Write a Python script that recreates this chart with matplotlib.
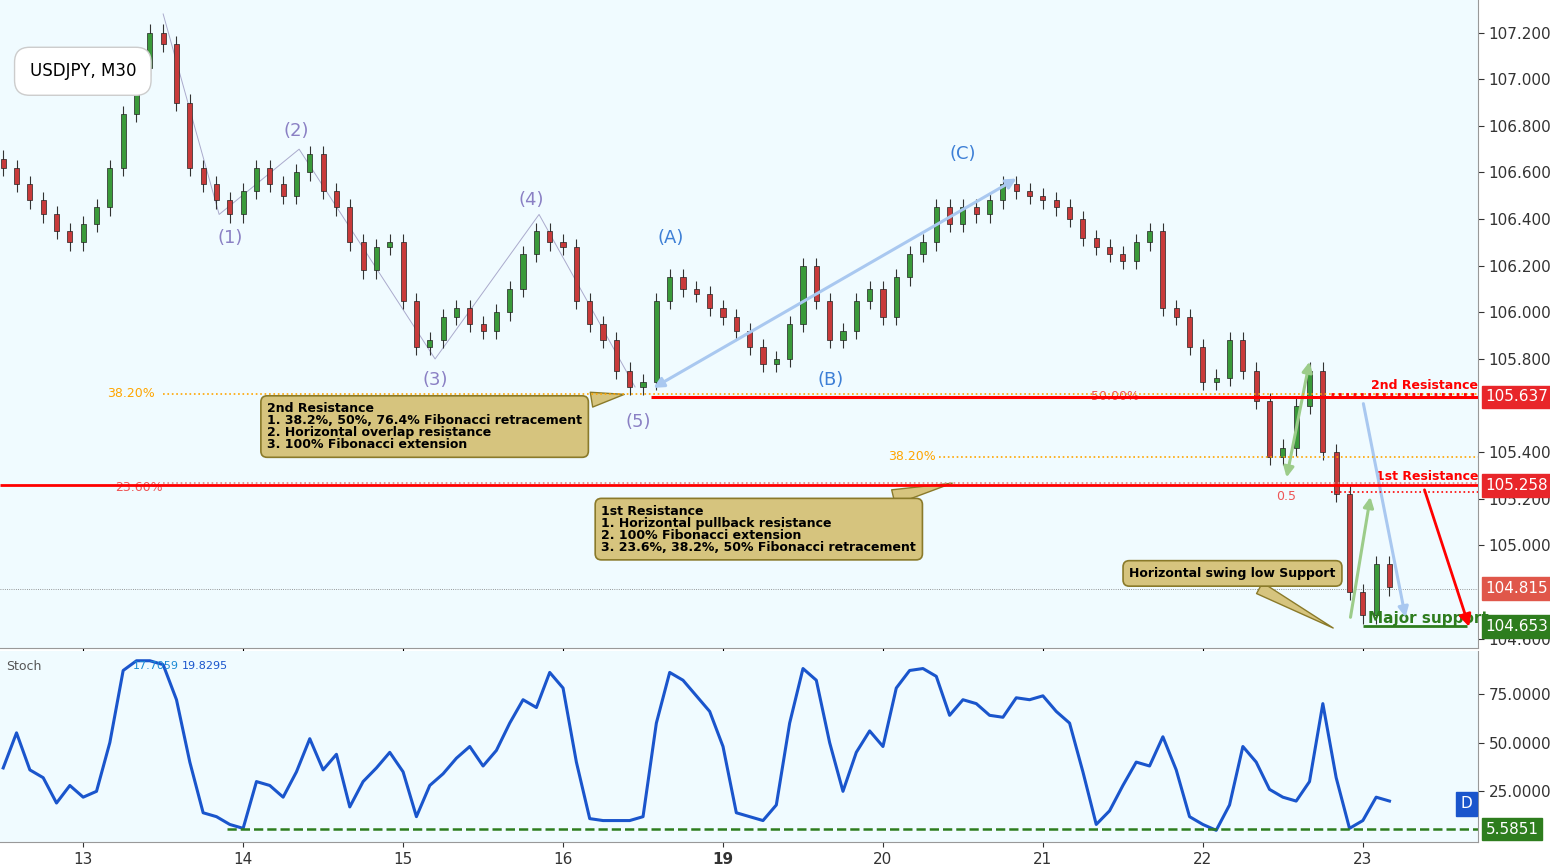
import matplotlib
matplotlib.use("Agg")
import matplotlib.pyplot as plt
import numpy as np

day_labels = ["13", "14", "15", "16", "19", "20", "21", "22", "23"]
closes = [106.62,106.55,106.48,106.42,106.35,106.30,106.38,106.45,106.62,106.85,107.05,107.20,
          107.15,106.90,106.62,106.55,106.48,106.42,106.52,106.62,106.55,106.50,106.60,106.68,
          106.52,106.45,106.30,106.18,106.28,106.30,106.05,105.85,105.88,105.98,106.02,105.95,
          105.92,106.00,106.10,106.25,106.35,106.30,106.28,106.05,105.95,105.88,105.75,105.68,
          105.70,106.05,106.15,106.10,106.08,106.02,105.98,105.92,105.85,105.78,105.80,105.95,
          106.20,106.05,105.88,105.92,106.05,106.10,105.98,106.15,106.25,106.30,106.45,106.38,
          106.45,106.42,106.48,106.55,106.52,106.50,106.48,106.45,106.40,106.32,106.28,106.25,
          106.22,106.30,106.35,106.02,105.98,105.85,105.70,105.72,105.88,105.75,105.62,105.38,
          105.42,105.60,105.75,105.40,105.22,104.80,104.70,104.92,104.82]
stoch = [37,55,36,32,19,28,22,25,50,87,92,92,
         90,72,40,14,12,8,6,30,28,22,35,52,
         36,44,17,30,37,45,35,12,28,34,42,48,
         38,46,60,72,68,86,78,40,11,10,10,10,
         12,60,86,82,74,66,48,14,12,10,18,60,
         88,82,50,25,45,56,48,78,87,88,84,64,
         72,70,64,63,73,72,74,66,60,35,8,15,
         28,40,38,53,36,12,8,5,18,48,40,26,
         22,20,30,70,32,6,10,22,20]
levels = {"res2": 105.637, "res1": 105.258, "last": 104.815, "support": 104.653}
stoch_low = 5.5851

n = len(closes)
t = -0.5 + np.arange(n) / 12.0
opens = [106.66] + closes[:-1]

bg = "#f0fbff"
fig = plt.figure(figsize=(15.5, 8.67), dpi=100)
fig.patch.set_facecolor("white")
ax = fig.add_axes([0, 1 - 648/867, 1478/1550, 648/867])
ax2 = fig.add_axes([0, 25/867, 1478/1550, 191/867], sharex=ax)
for a in (ax, ax2):
    a.set_facecolor(bg)
    a.yaxis.tick_right()
    a.tick_params(axis="y", labelsize=11, colors="#333", length=4)
    for s in ["top", "left"]:
        a.spines[s].set_visible(False)
    a.spines["right"].set_color("#999")
    a.spines["bottom"].set_color("#999")

x0, x1 = -0.52, 8.72
ax.set_xlim(x0, x1)
ax.set_ylim(104.56, 107.34)
tks = [v for v in np.arange(104.6, 107.21, 0.2) if round(v, 1) not in (104.8, 105.6)]
ax.set_yticks(tks)
ax.set_yticklabels([f"{v:.3f}" for v in tks])
plt.setp(ax.get_xticklabels(), visible=False)

w = 0.032
for ti, o, c in zip(t, opens, closes):
    col = "#3a9a3a" if c >= o else "#c83a3a"
    ax.vlines(ti, min(o, c) - 0.035, max(o, c) + 0.035, color="#333", lw=0.8, zorder=2)
    ax.bar(ti, max(abs(c - o), 0.008), bottom=min(o, c), width=w, color=col, edgecolor="#222", lw=0.5, zorder=3)

ax.hlines(levels["res2"], 3.55, x1, color="red", lw=2.2, zorder=4)
ax.hlines(levels["res1"], x0, x1, color="red", lw=2, zorder=4)
ax.hlines(105.65, 0.5, x1, color="orange", lw=1.2, ls=":", zorder=4)
ax.hlines(105.38, 5.35, x1, color="orange", lw=1.2, ls=":", zorder=4)
ax.hlines(105.27, 0.5, x1, color="#d88", lw=1.2, ls=":", zorder=4)
ax.hlines(105.65, 7.8, x1, color="red", lw=2, ls=":", zorder=4)
ax.hlines(105.23, 7.8, x1, color="red", lw=1.2, ls=":", zorder=4)
ax.hlines(levels["last"], x0, x1, color="#777", lw=0.6, ls=":", zorder=1)
ax.hlines(levels["support"], 8.0, 8.65, color="#2e7d1e", lw=2, zorder=4)
ax.text(0.45, 105.65, "38.20%", color="orange", fontsize=9, ha="right", va="center")
ax.text(5.33, 105.38, "38.20%", color="orange", fontsize=9, ha="right", va="center")
ax.text(0.5, 105.25, "23.60%", color="#e55", fontsize=9, ha="right", va="center")
ax.text(6.6, 105.64, "50.00%", color="#e55", fontsize=9, ha="right", va="center")
ax.text(7.58, 105.21, "0.5", color="#e55", fontsize=9, ha="right", va="center")
ax.text(8.72, 105.66, "2nd Resistance", color="red", fontsize=9, fontweight="bold", ha="right", va="bottom")
ax.text(8.72, 105.27, "1st Resistance", color="red", fontsize=9, fontweight="bold", ha="right", va="bottom")
ax.text(8.03, 104.685, "Major support", color="#2e7d1e", fontsize=11, fontweight="bold", ha="left", va="center")

def price_tag(ax, y, txt, col):
    ax.text(1.005, y, txt, transform=ax.get_yaxis_transform(), color="white", fontsize=11,
            va="center", ha="left", bbox=dict(boxstyle="square,pad=0.25", fc=col, ec=col), zorder=10)
price_tag(ax, levels["res2"], "105.637", "#e8262a")
price_tag(ax, levels["res1"], "105.258", "#e8262a")
price_tag(ax, levels["last"], "104.815", "#e0574a")
price_tag(ax, levels["support"], "104.653", "#2e7d1e")

purple = "#8a80c4"; blue = "#3d7fd6"
for lab, tx, py in [("(1)", 0.92, 106.32), ("(2)", 1.33, 106.78), ("(3)", 2.2, 105.71),
                    ("(4)", 2.8, 106.48), ("(5)", 3.47, 105.53)]:
    ax.text(tx, py, lab, color=purple, fontsize=13, ha="center", va="center")
for lab, tx, py in [("(A)", 3.67, 106.32), ("(B)", 4.67, 105.71), ("(C)", 5.5, 106.68)]:
    ax.text(tx, py, lab, color=blue, fontsize=13, ha="center", va="center")
wave_x = [0.5, 0.85, 1.35, 2.2, 2.85, 3.45]
wave_y = [107.28, 106.42, 106.7, 105.8, 106.42, 105.68]
ax.plot(wave_x, wave_y, color="#aac", lw=0.7, zorder=1)

arr = dict(arrowstyle="<|-|>", color="#a9c8f0", lw=2.2, mutation_scale=15)
ax.annotate("", xy=(3.55, 105.67), xytext=(5.85, 106.58), arrowprops=arr)
ax.annotate("", xy=(8.0, 105.62), xytext=(8.27, 104.68),
            arrowprops=dict(arrowstyle="<|-", color="#a9c8f0", lw=2.2, mutation_scale=15))
ax.annotate("", xy=(8.05, 105.22), xytext=(7.92, 104.68),
            arrowprops=dict(arrowstyle="-|>", color="#9ccc8a", lw=2.2, mutation_scale=15))
ax.annotate("", xy=(7.67, 105.8), xytext=(7.52, 105.28),
            arrowprops=dict(arrowstyle="<|-|>", color="#9ccc8a", lw=2.2, mutation_scale=15))
ax.annotate("", xy=(8.67, 104.64), xytext=(8.38, 105.25),
            arrowprops=dict(arrowstyle="-|>", color="red", lw=2, mutation_scale=18))

box = dict(boxstyle="round,pad=0.5", fc="#d6c47e", ec="#8a7a2a", lw=1.2)
ax.annotate("2nd Resistance\n1. 38.2%, 50%, 76.4% Fibonacci retracement\n2. Horizontal overlap resistance\n3. 100% Fibonacci extension",
            xy=(3.4, 105.65), xytext=(1.15, 105.51), fontsize=9, fontweight="bold", va="center", linespacing=0.9,
            bbox=box, arrowprops=dict(arrowstyle="wedge,tail_width=1.2", fc="#d6c47e", ec="#8a7a2a"))
ax.annotate("1st Resistance\n1. Horizontal pullback resistance\n2. 100% Fibonacci extension\n3. 23.6%, 38.2%, 50% Fibonacci retracement",
            xy=(5.45, 105.27), xytext=(3.24, 105.07), fontsize=9, fontweight="bold", va="center", linespacing=0.9,
            bbox=box, arrowprops=dict(arrowstyle="wedge,tail_width=1.2", fc="#d6c47e", ec="#8a7a2a"))
ax.annotate("Horizontal swing low Support", xy=(7.83, 104.64), xytext=(6.54, 104.88),
            fontsize=9, fontweight="bold", va="center",
            bbox=box, arrowprops=dict(arrowstyle="wedge,tail_width=1.0", fc="#d6c47e", ec="#8a7a2a"))
ax.text(0.02, 0.89, "USDJPY, M30", transform=ax.transAxes, fontsize=12, va="center",
        bbox=dict(boxstyle="round,pad=0.9", fc="white", ec="#ccc"))

ax2.plot(t, stoch, color="#1a55cc", lw=2.2)
ax2.hlines(stoch_low, 0.9, x1, color="#2e7d1e", lw=1.8, ls="--")
ax2.set_ylim(-1, 97)
ax2.set_yticks([25, 50, 75])
ax2.set_yticklabels(["25.0000", "50.0000", "75.0000"])
price_tag(ax2, stoch_low, "5.5851", "#2e7d1e")
ax2.text(0.004, 0.92, "Stoch", transform=ax2.transAxes, fontsize=9, color="#555", va="center")
ax2.text(0.09, 0.92, "17.7059", transform=ax2.transAxes, fontsize=8, color="#1a8ad4", va="center")
ax2.text(0.123, 0.92, "19.8295", transform=ax2.transAxes, fontsize=8, color="#1a55cc", va="center")
ax2.text(0.992, 0.2, "D", transform=ax2.transAxes, fontsize=11, color="white", ha="center", va="center",
         bbox=dict(boxstyle="square,pad=0.3", fc="#1a55cc", ec="#1a55cc"))
ax2.set_xticks(range(len(day_labels)))
ax2.set_xticklabels(day_labels)
ax2.tick_params(axis="x", labelsize=11, colors="#333")
for lbl in ax2.get_xticklabels():
    if lbl.get_text() == "19":
        lbl.set_fontweight("bold")

fig.savefig("out.png", dpi=100, facecolor="white")
